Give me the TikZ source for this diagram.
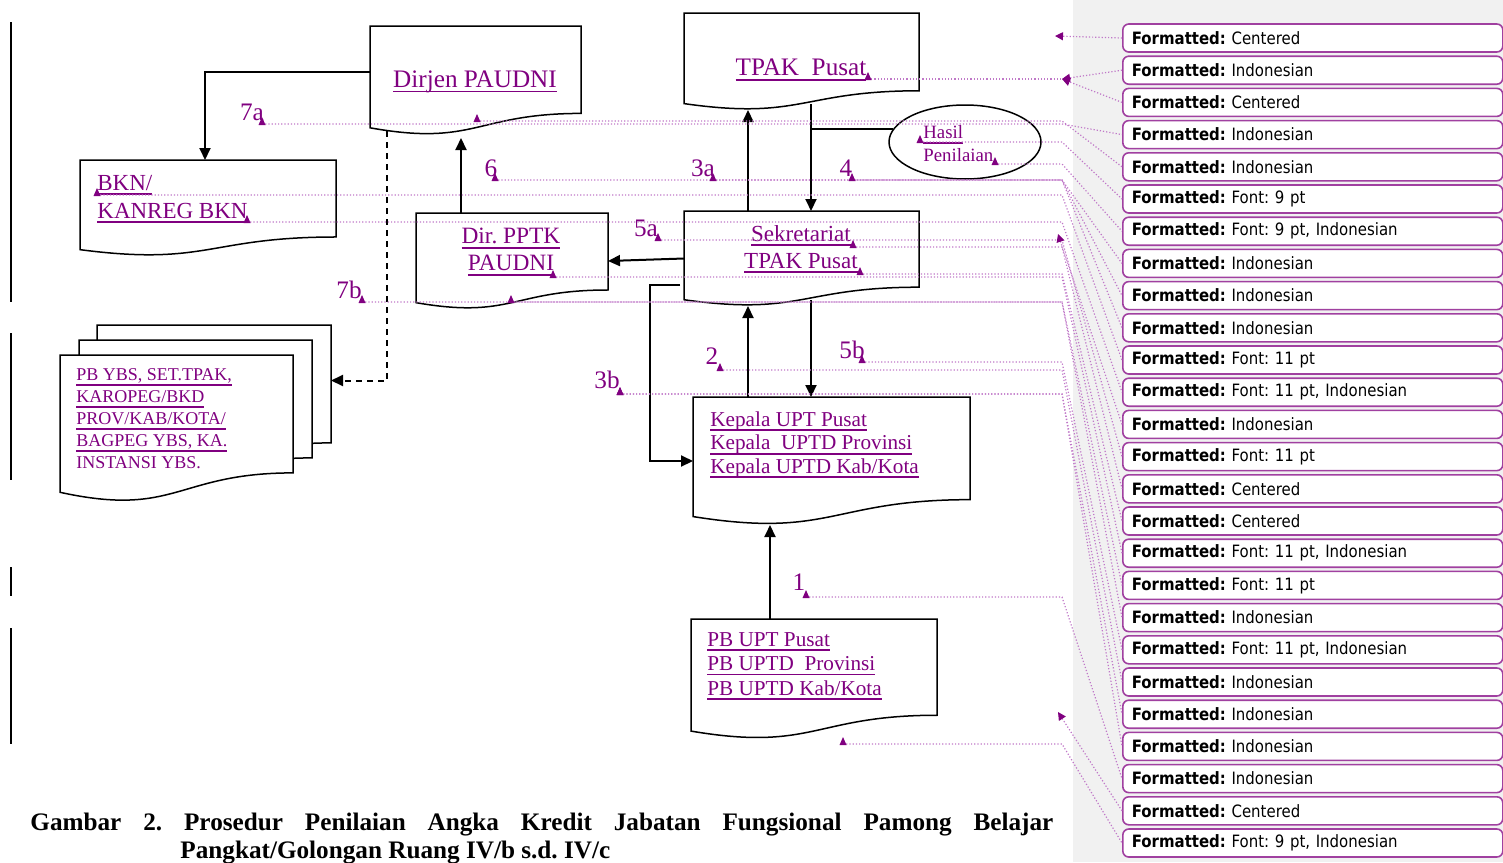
\documentclass[tikz,border=0pt]{standalone}
\usepackage{fontspec}
\setmainfont{Liberation Serif}
\newfontfamily\balloonfont[FakeStretch=0.88]{DejaVu Sans}
\usepackage{tikz}
\usetikzlibrary{arrows.meta,positioning,calc,shapes.geometric}
\definecolor{inkpurple}{HTML}{800080}
\definecolor{markpurple}{HTML}{A040A0}
\definecolor{linepurple}{HTML}{C078C8}
\definecolor{panelgray}{HTML}{F1F1F1}
\newcommand{\px}{0.5pt}
% inserted text: purple with a heavy underline
\newcommand{\ins}[1]{\sbox0{#1}\rlap{\usebox0}\rule[-2.4pt]{\wd0}{0.9pt}}
% flowchart "document" outline round an empty node
\newcommand{\docedge}[1]{%
  \draw[docline] (#1.north west) -- (#1.north east)
    -- ($(#1.north east)!0.802!(#1.south east)$)
    .. controls ($(#1.north)!0.802!(#1.south)$) and ($(#1.north)!1.1075!(#1.south)$)
    .. ($(#1.north west)!0.934!(#1.south west)$) -- cycle;}
\newcommand{\markat}[1]{\fill[inkpurple] (#1) ++(-3.5,1) -- ++(3.5,-8) -- ++(3.5,8) -- cycle;}
\frenchspacing
\begin{document}
\begin{tikzpicture}[x=\px, y=-\px,
  every node/.style={font=\fontsize{11}{13}\selectfont},
  docline/.style={draw=black, line width=0.75pt, fill=white},
  docbox/.style={inner sep=0pt, outer sep=0pt},
  inslabel/.style={text=inkpurple, inner sep=0pt, align=left},
  numlabel/.style={text=inkpurple, inner sep=0pt, font=\fontsize{12.6}{14}\selectfont},
  flow/.style={line width=1pt, -{Triangle[length=6pt,width=5.5pt]}},
  link/.style={line width=1pt},
  trackline/.style={draw=linepurple, line width=0.6pt, densely dotted},
  trackarrow/.style={trackline, -{Triangle[length=4pt,width=4pt,color=inkpurple]}},
  balloon/.style={anchor=west, draw=markpurple, line width=0.8pt, fill=white,
    rounded corners=3pt, minimum height=28*\px, text width=181pt, inner xsep=4.5pt,
    inner ysep=0pt, align=left, font=\balloonfont\fontsize{8.5}{10}\selectfont}]
  \useasboundingbox (0,0) rectangle (1503,862);
  \fill[panelgray] (1073,0) rectangle (1503,862);

  % change bars
  \draw[line width=1pt] (11,22) -- (11,302);
  \draw[line width=1pt] (11,333) -- (11,480);
  \draw[line width=1pt] (11,567) -- (11,596);
  \draw[line width=1pt] (11,628) -- (11,744);

  % boxes
  \node[docbox, minimum width=211*\px, minimum height=109*\px] (dirjen) at (475.5,80.5) {};
  \node[docbox, minimum width=235*\px, minimum height=97*\px] (tpak) at (801.5,61.5) {};
  \node[docbox, minimum width=256*\px, minimum height=96*\px] (bkn) at (208,208) {};
  \node[docbox, minimum width=192*\px, minimum height=96*\px] (pptk) at (512,261) {};
  \node[docbox, minimum width=235*\px, minimum height=95*\px] (sek) at (801.5,258.5) {};
  \node[docbox, minimum width=234*\px, minimum height=147*\px] (stack3) at (214,398.5) {};
  \node[docbox, minimum width=233*\px, minimum height=147*\px] (stack2) at (195.5,413.5) {};
  \node[docbox, minimum width=233*\px, minimum height=147*\px] (stack1) at (176.5,428.5) {};
  \node[docbox, minimum width=277*\px, minimum height=128*\px] (kepala) at (831.5,461) {};
  \node[docbox, minimum width=246*\px, minimum height=120*\px] (pb) at (814,679) {};
  \foreach \b in {dirjen,tpak,bkn,pptk,sek,stack3,stack2,stack1,kepala,pb} {\docedge{\b}}
  \node[ellipse, draw, line width=0.75pt, inner sep=0pt, minimum width=152*\px, minimum height=74*\px] (hasil) at (965,142) {};

  % texts
  \node[inslabel, font=\fontsize{12.6}{15}\selectfont] (tDirjen) at (475,82) {\ins{Dirjen PAUDNI}};
  \node[inslabel, font=\fontsize{12.6}{15}\selectfont] (tTpak) at (801,70) {\ins{TPAK\ \ Pusat}};
  \node[inslabel, anchor=west, font=\fontsize{9.4}{11.5}\selectfont] (tHasil) at (923,144) {\ins{Hasil}\\Penilaian};
  \node[inslabel, anchor=west, font=\fontsize{11.5}{14}\selectfont] (tBkn) at (97,199) {\ins{BKN/}\\\ins{KANREG BKN}};
  \node[inslabel, align=center, font=\fontsize{11.7}{13.5}\selectfont] (tPptk) at (511,252) {\ins{Dir. PPTK}\\\ins{PAUDNI}};
  \node[inslabel, align=center, font=\fontsize{11.5}{13.5}\selectfont] (tSek) at (801,249) {\ins{Sekretariat}\\\ins{TPAK Pusat}};
  \node[inslabel, anchor=west, font=\fontsize{9}{11}\selectfont] (tStack) at (76,419) {\ins{PB YBS, SET.TPAK,}\\\ins{KAROPEG/BKD}\\\ins{PROV/KAB/KOTA/}\\\ins{BAGPEG YBS, KA.}\\INSTANSI YBS.};
  \node[inslabel, anchor=west, font=\fontsize{10.6}{11.75}\selectfont] (tKepala) at (710,445) {\ins{Kepala UPT Pusat}\\\ins{Kepala\ \ UPTD Provinsi}\\\ins{Kepala UPTD Kab/Kota}};
  \node[inslabel, anchor=west, font=\fontsize{10.6}{12.25}\selectfont] (tPb) at (707,666) {\ins{PB UPT Pusat}\\\ins{PB UPTD\ \ Provinsi}\\\ins{PB UPTD Kab/Kota}};

  % step numbers
  \node[numlabel] (n7a) at (252,112) {7a};
  \node[numlabel] (n6) at (491,168) {6};
  \node[numlabel] (n3a) at (703,168) {3a};
  \node[numlabel] (n4) at (846,168) {4};
  \node[numlabel] (n5a) at (646,228) {5a};
  \node[numlabel] (n7b) at (349,290) {7b};
  \node[numlabel] (n2) at (712,356) {2};
  \node[numlabel] (n5b) at (852,350) {5b};
  \node[numlabel] (n3b) at (607,380) {3b};
  \node[numlabel] (n1) at (799,582) {1};

  % flow
  \draw[flow] ([yshift=4.25pt]dirjen.west) -| ([xshift=-1.5pt]bkn.north);
  \coordinate (d0) at ([xshift=8.5pt,yshift=2pt]dirjen.south west);
  \draw[flow, dash pattern=on 3pt off 2.5pt] (d0) |- ([yshift=9pt]stack3.east);
  \coordinate (p6) at ([xshift=-25.5pt]pptk.north);
  \draw[flow, shorten >=1.5pt] (p6) -- (p6 |- dirjen.south);
  \draw[flow] (sek.west) -- (pptk.east);
  \coordinate (p3a) at ([xshift=-26.75pt]sek.north);
  \draw[flow] (p3a) -- (p3a |- tpak.south);
  \coordinate (p4) at ([xshift=4.75pt,yshift=3pt]tpak.south);
  \draw[flow] (p4) -- (p4 |- sek.north);
  \draw[link] (hasil.170) -- (hasil.170 -| p4);
  \draw[flow] ([xshift=-2pt,yshift=-13pt]sek.west) -- ++(-15pt,0) |- (kepala.west);
  \coordinate (p2) at ([xshift=-41.75pt]kepala.north);
  \draw[flow] (p2) -- (p2 |- sek.south);
  \coordinate (p5b) at ([xshift=4.75pt,yshift=3pt]sek.south);
  \draw[flow] (p5b) -- (p5b |- kepala.north);
  \coordinate (p1) at ([xshift=-22pt]pb.north);
  \draw[flow] (p1) -- (p1 |- kepala.south);

  % caption
  \node[anchor=north west, inner sep=0pt, text width=511.5pt, align=justify,
    font=\bfseries\fontsize{12.6}{14}\selectfont] (caption) at (30,813)
    {\noindent\hangindent=75pt\hangafter=1 Gambar 2. Prosedur Penilaian Angka Kredit Jabatan Fungsional Pamong Belajar\linebreak Pangkat/Golongan Ruang IV/b s.d. IV/c\par};

  % comment balloons
  \foreach \txt [count=\i] in {Centered, Indonesian, Centered, Indonesian, Indonesian,
      {Font: 9 pt}, {Font: 9 pt, Indonesian}, Indonesian, Indonesian, Indonesian,
      {Font: 11 pt}, {Font: 11 pt, Indonesian}, Indonesian, {Font: 11 pt}, Centered,
      Centered, {Font: 11 pt, Indonesian}, {Font: 11 pt}, Indonesian,
      {Font: 11 pt, Indonesian}, Indonesian, Indonesian, Indonesian, Indonesian,
      Centered, {Font: 9 pt, Indonesian}} {
    \pgfmathsetmacro{\by}{38+(\i-1)*32.2}
    \node[balloon] (b\i) at (1122,\by) {\textbf{Formatted:} \txt};
  }

  % tracking lines
  \coordinate (knee) at (1062,0);
  \foreach \i/\ax/\ay in {4/262/124, 5/477/121, 6/920/142, 7/995/164, 8/495/180,
      9/713/180, 10/852/180, 11/97/195, 12/247/222, 14/658/240, 15/853/247,
      16/860/274, 17/553/277, 18/362/302, 19/511/302, 20/862/362, 21/720/370,
      22/620/394, 23/620/394, 24/806/597, 26/843/744} {
    \coordinate (m\i) at (\ax,\ay);
    \draw[trackline] (m\i) -- (m\i -| knee) -- (b\i.west);
    \markat{m\i}
  }
  \coordinate (m2) at (868,79);
  \coordinate (k2) at (m2 -| knee);
  \draw[trackline] (m2) -- (k2);
  \markat{m2}
  \draw[trackarrow] (b2.west) -- (k2);
  \draw[trackarrow] (b3.west) -- (k2);
  \coordinate (a1) at (1055,36);
  \draw[trackarrow] (b1.west) -- (a1);
  \coordinate (a13) at (1058,234);
  \draw[trackarrow] (b13.west) -- (a13);
  \coordinate (a25) at (1058,712);
  \draw[trackarrow] (b25.west) -- (a25);
\end{tikzpicture}
\end{document}
